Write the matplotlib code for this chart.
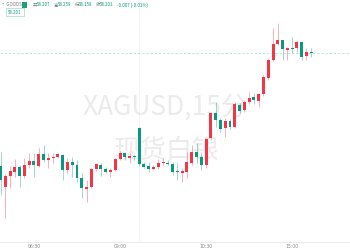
import numpy as np
import matplotlib.pyplot as plt
from matplotlib.patches import Rectangle

# ============================== DATA ==============================
# 15 min candles, XAGUSD
opens  = [57.07, 56.86, 56.97, 57.01, 57.06, 56.97, 57.08, 57.12, 57.07, 57.19,
          57.13, 57.15, 57.16, 57.18, 57.03, 57.11, 57.08, 56.95, 56.84, 56.86,
          57.04, 57.08, 57.04, 57.01, 57.03, 57.14, 57.20, 57.15, 57.17, 57.45,
          57.09, 57.07, 57.04, 57.06, 57.10, 57.10, 57.09, 57.02, 57.00, 57.01,
          57.10, 57.21, 57.16, 57.08, 57.35, 57.60, 57.53, 57.45, 57.52, 57.46,
          57.68, 57.63, 57.71, 57.76, 57.72, 57.79, 57.95, 58.13, 58.29, 58.33,
          58.23, 58.25, 58.25, 58.31, 58.17, 58.21]
highs  = [57.21, 56.99, 57.07, 57.14, 57.08, 57.15, 57.20, 57.20, 57.25, 57.28,
          57.20, 57.20, 57.20, 57.19, 57.15, 57.16, 57.13, 57.00, 56.93, 57.05,
          57.10, 57.10, 57.06, 57.05, 57.15, 57.22, 57.21, 57.20, 57.18, 57.46,
          57.11, 57.11, 57.08, 57.14, 57.15, 57.13, 57.11, 57.10, 57.05, 57.21,
          57.28, 57.30, 57.21, 57.35, 57.61, 57.71, 57.55, 57.55, 57.54, 57.71,
          57.70, 57.73, 57.81, 57.80, 57.80, 57.98, 58.15, 58.45, 58.50, 58.33,
          58.26, 58.36, 58.33, 58.31, 58.25, 58.25]
lows   = [56.78, 56.55, 56.85, 56.96, 56.86, 56.95, 57.05, 56.96, 57.06, 57.11,
          57.05, 57.10, 57.15, 56.93, 57.00, 56.96, 56.91, 56.75, 56.71, 56.85,
          57.02, 56.97, 57.00, 56.96, 57.02, 57.13, 57.13, 57.10, 57.13, 57.07,
          57.05, 57.01, 57.03, 57.04, 57.08, 57.08, 56.98, 56.93, 56.91, 56.95,
          57.08, 57.10, 57.03, 57.05, 57.33, 57.46, 57.41, 57.36, 57.44, 57.45,
          57.60, 57.61, 57.69, 57.69, 57.66, 57.77, 57.93, 58.12, 58.28, 58.13,
          58.13, 58.20, 58.21, 58.13, 58.13, 58.16]
closes = [56.93, 56.97, 57.02, 57.06, 56.97, 57.08, 57.12, 57.08, 57.19, 57.13,
          57.15, 57.16, 57.19, 57.03, 57.11, 57.08, 56.95, 56.85, 56.86, 57.04,
          57.09, 57.04, 57.01, 57.03, 57.14, 57.20, 57.16, 57.17, 57.16, 57.09,
          57.06, 57.04, 57.06, 57.10, 57.11, 57.09, 57.01, 57.01, 57.02, 57.11,
          57.21, 57.16, 57.08, 57.34, 57.60, 57.53, 57.44, 57.52, 57.46, 57.69,
          57.62, 57.71, 57.75, 57.73, 57.79, 57.96, 58.13, 58.29, 58.33, 58.24,
          58.25, 58.24, 58.31, 58.16, 58.21, 58.20]

last_price = 58.20
day_break = 29           # candle where the new session starts
tick_pos = [7, 25, 43, 61]
tick_lbl = ['06:30', '09:00', '10:30', '15:00']

# ============================== PLOT STUFF =============================
up_col = '#F23645'      # red = up
dn_col = '#089981'      # green = down

fig = plt.figure(figsize=(3.5, 2.5), dpi=100)
ax = fig.add_axes([0, 8/250, 1, 242/250])

n = len(opens)
x = np.arange(n)
o = np.array(opens); h = np.array(highs); l = np.array(lows); c = np.array(closes)
cols = [up_col if cc >= oo else dn_col for oo, cc in zip(o, c)]

# wicks + bodies
ax.vlines(x, l, h, colors=cols, linewidth=0.6, alpha=0.45, zorder=3)
body_h = np.maximum(np.abs(c - o), 0.008)
ax.bar(x, body_h, bottom=np.minimum(o, c), width=0.62, color=cols, linewidth=0, zorder=4)

# last price line & session separator
ax.axhline(last_price, color='#B5E2DA', linestyle=(0, (3, 2)), linewidth=0.6, zorder=1)
ax.axvline(day_break - 0.1, color='#E0E0E0', linestyle=(0, (1, 1.5)), linewidth=0.6, zorder=1)

ax.set_xlim(-0.105, 73.1)
ax.set_ylim(56.31, 58.73)

ax.set_xticks(tick_pos)
ax.set_xticklabels(tick_lbl, fontsize=3.3, color='#8A8A8A')
ax.tick_params(axis='x', length=0, pad=1.2)
ax.set_yticks([])
for s in ['top', 'left', 'right']:
    ax.spines[s].set_visible(False)
ax.spines['bottom'].set_color('#E6E6E6')
ax.spines['bottom'].set_linewidth(0.6)

# watermark (behind the candles)
wm_font = ['Noto Sans CJK SC', 'DejaVu Sans']
ax.text(165/350, 1 - 107/250, 'XAGUSD,15分', fontsize=19, color='#EBEBEB',
        family=wm_font, weight='light', ha='center', va='center', zorder=0,
        transform=fig.transFigure)
ax.text(167/350, 1 - 150/250, '现货白银', fontsize=19, color='#EBEBEB',
        family=wm_font, weight='light', ha='center', va='center', zorder=0,
        transform=fig.transFigure)

# header line
fig.text(1/350, 1 - 5/250, '• GOODS', fontsize=3.2, color='#777777', family=wm_font,
         va='center')
fig.patches.append(Rectangle((22/350, 1 - 7.5/250), 5/350, 5/250, transform=fig.transFigure,
                             facecolor='#1BA27A', edgecolor='none'))
hdr = [('开', '58.207'), ('高', '58.259'), ('低', '58.158'), ('收', '58.201')]
xp = 33
for k, v in hdr:
    fig.text(xp/350, 1 - 5/250, k, fontsize=3.2, color='#777777', family=wm_font, va='center')
    fig.text((xp + 4)/350, 1 - 5/250, v, fontsize=3.2, color=dn_col, family=wm_font, va='center')
    xp += 21
fig.text(xp/350, 1 - 5/250, '-0.007 (-0.01%)', fontsize=3.2, color=dn_col, family=wm_font,
         va='center')

# price box top-left
fig.text(15/350, 1 - 12/250, '58.201', fontsize=3.2, color=dn_col, family=wm_font,
         ha='center', va='center',
         bbox=dict(boxstyle='square,pad=0.4', facecolor='white', edgecolor='#9ED8CE', linewidth=0.5))

plt.savefig('out.png', dpi=100)
